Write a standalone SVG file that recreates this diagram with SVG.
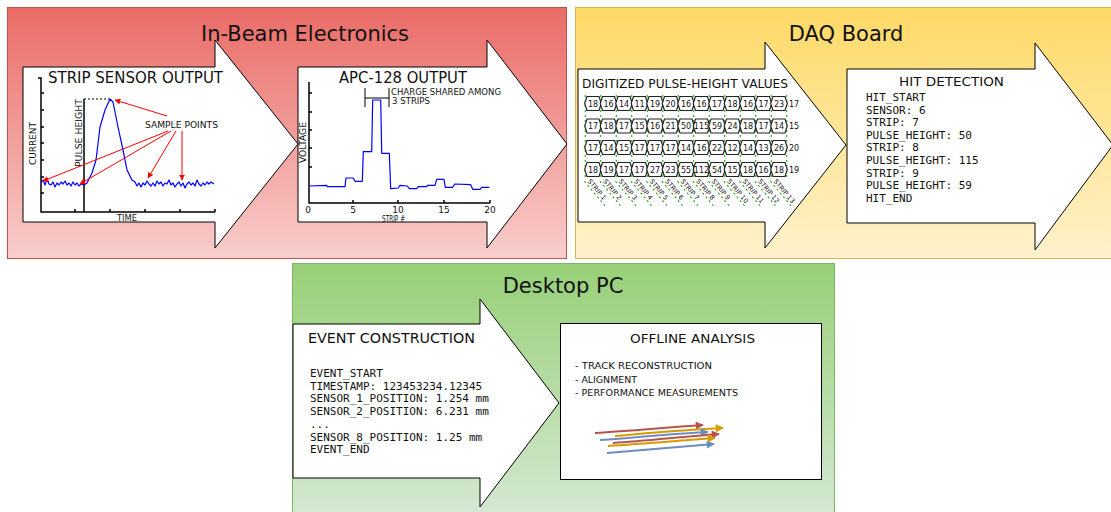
<svg xmlns="http://www.w3.org/2000/svg" xmlns:xlink="http://www.w3.org/1999/xlink" width="1111" height="512" viewBox="0 0 1111 512">
<defs>
<linearGradient id="gRed" x1="0" y1="0" x2="0" y2="1"><stop offset="0" stop-color="#ea6b66"/><stop offset="1" stop-color="#f8cecc"/></linearGradient>
<linearGradient id="gYel" x1="0" y1="0" x2="0" y2="1"><stop offset="0" stop-color="#ffd966"/><stop offset="1" stop-color="#fff2cc"/></linearGradient>
<linearGradient id="gGrn" x1="0" y1="0" x2="0" y2="1"><stop offset="0" stop-color="#97d077"/><stop offset="1" stop-color="#d5e8d4"/></linearGradient>
<marker id="mRed" viewBox="0 0 10 10" refX="9" refY="5" markerWidth="6" markerHeight="6" orient="auto" markerUnits="userSpaceOnUse"><path d="M0,0 L10,5 L0,10 Z" fill="#ff0000"/></marker>
<marker id="aR" viewBox="0 0 10 10" refX="9" refY="5" markerWidth="10" markerHeight="8" orient="auto" markerUnits="userSpaceOnUse"><path d="M0,0 L10,5 L0,10 Z" fill="#b85450"/></marker>
<marker id="aO" viewBox="0 0 10 10" refX="9" refY="5" markerWidth="10" markerHeight="8" orient="auto" markerUnits="userSpaceOnUse"><path d="M0,0 L10,5 L0,10 Z" fill="#d79b00"/></marker>
<marker id="aB" viewBox="0 0 10 10" refX="9" refY="5" markerWidth="10" markerHeight="8" orient="auto" markerUnits="userSpaceOnUse"><path d="M0,0 L10,5 L0,10 Z" fill="#6c8ebf"/></marker>
<path id="cell" d="M-6,-7 H6 L8.3,0 L6,7 H-6 L-8.3,0 Z" fill="#fff" stroke="#222" stroke-width="1.2"/>
</defs>
<style>
.title{font-family:"DejaVu Sans",sans-serif;font-size:21px;fill:#111;text-anchor:middle}
.hand{font-family:"DejaVu Sans","Liberation Sans",sans-serif;fill:#111}
.mono{font-family:"DejaVu Sans Mono","Liberation Mono",monospace;font-size:11px;fill:#111}
.block{fill:#fff;stroke:#000;stroke-width:1}
.ax{fill:none;stroke:#000;stroke-width:1.5}
.blue{fill:none;stroke:#0000ff;stroke-width:1.2;stroke-linejoin:round}
.redar{fill:none;stroke:#ff0000;stroke-width:1;marker-end:url(#mRed)}
.num{font-family:"DejaVu Sans",sans-serif;font-size:8px;fill:#111;text-anchor:middle}
.gdash{stroke:#00a000;stroke-width:1;stroke-dasharray:2 3}
.trk{fill:none;stroke-width:2}
</style>

<g id="section-in-beam">
<rect x="7.5" y="7.5" width="559" height="251" fill="url(#gRed)" stroke="#b85450"/>
<text class="title" x="305" y="41">In-Beam Electronics</text>
</g>
<g id="section-daq">
<rect x="575.5" y="7.5" width="545" height="251" fill="url(#gYel)" stroke="#d6b656"/>
<text class="title" x="846" y="41">DAQ Board</text>
</g>
<g id="section-pc">
<rect x="292.5" y="263.5" width="542" height="255" fill="url(#gGrn)" stroke="#82b366"/>
<text class="title" x="563" y="293">Desktop PC</text>
</g>

<g id="node-strip-sensor">
<path class="block" d="M23,67 H215 V40 L298,144 L215,248 V222 H23 Z"/>
<text class="hand" x="48" y="83" font-size="15" textLength="175" lengthAdjust="spacingAndGlyphs">STRIP SENSOR OUTPUT</text>
<path class="ax" d="M38,78 H41 V212 H215"/>
<path class="ax" stroke-width="1" d="M41,93 h3 M41,110 h3 M41,127 h3 M41,143 h3 M41,160 h3 M41,177 h3 M41,193 h3 M75,212 v-3 M110,212 v-3 M145,212 v-3 M180,212 v-3 M215,212 v-3"/>
<line x1="84" y1="99" x2="84" y2="212" stroke="#000" stroke-width="1.5"/>
<line x1="84" y1="99" x2="110" y2="99" stroke="#000" stroke-width="1" stroke-dasharray="2 2"/>
<text class="hand" font-size="9" transform="translate(36,165) rotate(-90)" textLength="43" lengthAdjust="spacingAndGlyphs">CURRENT</text>
<text class="hand" font-size="9" transform="translate(82,167) rotate(-90)" textLength="68" lengthAdjust="spacingAndGlyphs">PULSE HEIGHT</text>
<text class="hand" font-size="9" x="117" y="221" textLength="20" lengthAdjust="spacingAndGlyphs">TIME</text>
<polyline class="blue" points="41,183 43,180 45,185 47,179 49,184 51,185 53,182 55,187 57,183 59,185 61,182 63,184 65,181 67,185 69,183 71,186 73,182 75,185 77,183 79,186 81,184 84,185 87,183 92,173 96,160 100,127 105,110 110,99 113,102 118,127 123,150 127,170 132,180 135,182 137,186 139,183 141,187 143,183 145,185 147,181 149,184 151,186 153,183 155,186 157,181 159,184 161,182 163,186 165,183 167,184 169,180 171,185 173,183 175,187 177,184 179,182 181,186 183,183 185,188 187,184 189,182 191,185 193,183 195,186 197,180 199,184 201,186 203,183 205,185 207,182 209,184 211,182 214,184"/>
<text class="hand" font-size="9" x="145" y="128" textLength="73" lengthAdjust="spacingAndGlyphs">SAMPLE POINTS</text>
<line class="redar" x1="167" y1="116" x2="115" y2="100"/>
<line class="redar" x1="168" y1="131" x2="43" y2="181"/>
<line class="redar" x1="171" y1="131" x2="80" y2="184"/>
<line class="redar" x1="176" y1="131" x2="148" y2="178"/>
<line class="redar" x1="182" y1="131" x2="182" y2="180"/>
</g>

<g id="node-apc">
<path class="block" d="M298,67 H487 V40 L567,144 L487,248 V222 H298 Z"/>
<text class="hand" x="339" y="83" font-size="15" textLength="128" lengthAdjust="spacingAndGlyphs">APC-128 OUTPUT</text>
<path class="ax" d="M309,82 V203 H490"/>
<path class="ax" stroke-width="1" d="M309,93 h3 M309,112 h3 M309,130 h3 M309,148 h3 M309,167 h3 M353,203 v-3 M398,203 v-3 M444,203 v-3 M490,203 v-3"/>
<g class="hand" font-size="9" text-anchor="middle">
<text x="308" y="213">0</text><text x="353" y="213">5</text><text x="398" y="213">10</text><text x="444" y="213">15</text><text x="490" y="213">20</text>
</g>
<text class="hand" font-size="8" x="382" y="222" textLength="23" lengthAdjust="spacingAndGlyphs">STRIP #</text>
<text class="hand" font-size="9" transform="translate(306,163) rotate(-90)" textLength="41" lengthAdjust="spacingAndGlyphs">VOLTAGE</text>
<path fill="none" stroke="#000" stroke-width="1" d="M365,88 V107 M365,98 H389 M389,88 V107"/>
<text class="hand" font-size="8" x="391" y="95" textLength="110" lengthAdjust="spacingAndGlyphs">CHARGE SHARED AMONG</text>
<text class="hand" font-size="8" x="392" y="104" textLength="38" lengthAdjust="spacingAndGlyphs">3 STRIPS</text>
<polyline class="blue" points="309.3,186 326.7,185.3 327.3,186.7 345,186.7 346,178 353.3,178 355,181.3 362.3,181.3 363.3,151.7 371.7,151.7 372.7,100 380.7,100 381.7,153.3 389.3,153.3 390.7,188.7 398.3,188 400,185.3 407.3,186 409.3,188.7 416.7,188.7 418.3,186.7 426.7,186.7 427.3,185.3 435,185.3 436.7,179.3 444,179.3 445.3,187.3 452.7,187.3 454.7,184 470.7,184.7 472.7,189.3 480,189.3 481.7,187.3 489.3,187.3"/>
</g>

<g id="node-digitized">
<path class="block" d="M578,69 H765 V42 L846,145 L765,248 V222 H578 Z"/>
<text class="hand" x="582" y="88" font-size="12" textLength="206" lengthAdjust="spacingAndGlyphs">DIGITIZED PULSE-HEIGHT VALUES</text>
<path class="gdash" d="M585.25,95 V200 M600.75,95 V200 M616.25,95 V200 M631.75,95 V200 M647.25,95 V200 M662.75,95 V200 M678.25,95 V200 M693.75,95 V200 M709.25,95 V200 M724.75,95 V200 M740.25,95 V200 M755.75,95 V200 M771.25,95 V200 M786.75,95 V180" stroke-dasharray="2 4"/>
<rect x="580" y="178" width="215" height="30" fill="#fff"/>
<g id="cells">
<use href="#cell" x="593" y="103.5"/><use href="#cell" x="608.5" y="103.5"/><use href="#cell" x="624" y="103.5"/><use href="#cell" x="639.5" y="103.5"/><use href="#cell" x="655" y="103.5"/><use href="#cell" x="670.5" y="103.5"/><use href="#cell" x="686" y="103.5"/><use href="#cell" x="701.5" y="103.5"/><use href="#cell" x="717" y="103.5"/><use href="#cell" x="732.5" y="103.5"/><use href="#cell" x="748" y="103.5"/><use href="#cell" x="763.5" y="103.5"/><use href="#cell" x="779" y="103.5"/>
<use href="#cell" x="593" y="126"/><use href="#cell" x="608.5" y="126"/><use href="#cell" x="624" y="126"/><use href="#cell" x="639.5" y="126"/><use href="#cell" x="655" y="126"/><use href="#cell" x="670.5" y="126"/><use href="#cell" x="686" y="126"/><use href="#cell" x="701.5" y="126"/><use href="#cell" x="717" y="126"/><use href="#cell" x="732.5" y="126"/><use href="#cell" x="748" y="126"/><use href="#cell" x="763.5" y="126"/><use href="#cell" x="779" y="126"/>
<use href="#cell" x="593" y="147.5"/><use href="#cell" x="608.5" y="147.5"/><use href="#cell" x="624" y="147.5"/><use href="#cell" x="639.5" y="147.5"/><use href="#cell" x="655" y="147.5"/><use href="#cell" x="670.5" y="147.5"/><use href="#cell" x="686" y="147.5"/><use href="#cell" x="701.5" y="147.5"/><use href="#cell" x="717" y="147.5"/><use href="#cell" x="732.5" y="147.5"/><use href="#cell" x="748" y="147.5"/><use href="#cell" x="763.5" y="147.5"/><use href="#cell" x="779" y="147.5"/>
<use href="#cell" x="593" y="169.5"/><use href="#cell" x="608.5" y="169.5"/><use href="#cell" x="624" y="169.5"/><use href="#cell" x="639.5" y="169.5"/><use href="#cell" x="655" y="169.5"/><use href="#cell" x="670.5" y="169.5"/><use href="#cell" x="686" y="169.5"/><use href="#cell" x="701.5" y="169.5"/><use href="#cell" x="717" y="169.5"/><use href="#cell" x="732.5" y="169.5"/><use href="#cell" x="748" y="169.5"/><use href="#cell" x="763.5" y="169.5"/><use href="#cell" x="779" y="169.5"/>
</g>
<g class="num">
<text x="593" y="106.5">18</text><text x="608.5" y="106.5">16</text><text x="624" y="106.5">14</text><text x="639.5" y="106.5">11</text><text x="655" y="106.5">19</text><text x="670.5" y="106.5">20</text><text x="686" y="106.5">16</text><text x="701.5" y="106.5">16</text><text x="717" y="106.5">17</text><text x="732.5" y="106.5">18</text><text x="748" y="106.5">16</text><text x="763.5" y="106.5">17</text><text x="779" y="106.5">23</text><text x="794" y="106.5">17</text>
<text x="593" y="129">17</text><text x="608.5" y="129">18</text><text x="624" y="129">17</text><text x="639.5" y="129">15</text><text x="655" y="129">16</text><text x="670.5" y="129">21</text><text x="686" y="129">50</text><text x="701.5" y="129">115</text><text x="717" y="129">59</text><text x="732.5" y="129">24</text><text x="748" y="129">18</text><text x="763.5" y="129">17</text><text x="779" y="129">14</text><text x="794" y="129">15</text>
<text x="593" y="150.5">17</text><text x="608.5" y="150.5">14</text><text x="624" y="150.5">15</text><text x="639.5" y="150.5">17</text><text x="655" y="150.5">17</text><text x="670.5" y="150.5">17</text><text x="686" y="150.5">14</text><text x="701.5" y="150.5">16</text><text x="717" y="150.5">22</text><text x="732.5" y="150.5">12</text><text x="748" y="150.5">14</text><text x="763.5" y="150.5">13</text><text x="779" y="150.5">26</text><text x="794" y="150.5">20</text>
<text x="593" y="172.5">18</text><text x="608.5" y="172.5">19</text><text x="624" y="172.5">17</text><text x="639.5" y="172.5">17</text><text x="655" y="172.5">27</text><text x="670.5" y="172.5">23</text><text x="686" y="172.5">55</text><text x="701.5" y="172.5">112</text><text x="717" y="172.5">54</text><text x="732.5" y="172.5">15</text><text x="748" y="172.5">18</text><text x="763.5" y="172.5">16</text><text x="779" y="172.5">18</text><text x="794" y="172.5">19</text>
</g>
<g class="hand" font-size="6.5">
<g transform="translate(586,180) rotate(50)"><line class="gdash" x1="0" y1="2" x2="32" y2="2"/><text x="2" y="0">STRIP 1</text></g>
<g transform="translate(601.5,180) rotate(50)"><line class="gdash" x1="0" y1="2" x2="32" y2="2"/><text x="2" y="0">STRIP 2</text></g>
<g transform="translate(617,180) rotate(50)"><line class="gdash" x1="0" y1="2" x2="32" y2="2"/><text x="2" y="0">STRIP 3</text></g>
<g transform="translate(632.5,180) rotate(50)"><line class="gdash" x1="0" y1="2" x2="32" y2="2"/><text x="2" y="0">STRIP 4</text></g>
<g transform="translate(648,180) rotate(50)"><line class="gdash" x1="0" y1="2" x2="32" y2="2"/><text x="2" y="0">STRIP 5</text></g>
<g transform="translate(663.5,180) rotate(50)"><line class="gdash" x1="0" y1="2" x2="32" y2="2"/><text x="2" y="0">STRIP 6</text></g>
<g transform="translate(679,180) rotate(50)"><line class="gdash" x1="0" y1="2" x2="32" y2="2"/><text x="2" y="0">STRIP 7</text></g>
<g transform="translate(694.5,180) rotate(50)"><line class="gdash" x1="0" y1="2" x2="32" y2="2"/><text x="2" y="0">STRIP 8</text></g>
<g transform="translate(710,180) rotate(50)"><line class="gdash" x1="0" y1="2" x2="32" y2="2"/><text x="2" y="0">STRIP 9</text></g>
<g transform="translate(725.5,180) rotate(50)"><line class="gdash" x1="0" y1="2" x2="32" y2="2"/><text x="2" y="0">STRIP 10</text></g>
<g transform="translate(741,180) rotate(50)"><line class="gdash" x1="0" y1="2" x2="32" y2="2"/><text x="2" y="0">STRIP 11</text></g>
<g transform="translate(756.5,180) rotate(50)"><line class="gdash" x1="0" y1="2" x2="32" y2="2"/><text x="2" y="0">STRIP 12</text></g>
<g transform="translate(772,180) rotate(50)"><line class="gdash" x1="0" y1="2" x2="32" y2="2"/><text x="2" y="0">STRIP 13</text></g>
</g>
</g>

<g id="node-hit-detection">
<path class="block" d="M847,69 H1035 V43 L1113,145 L1035,250 V223 H847 Z"/>
<text class="hand" x="899" y="86" font-size="13" textLength="105" lengthAdjust="spacingAndGlyphs">HIT DETECTION</text>
<text class="mono" x="866" y="101">HIT_START</text>
<text class="mono" x="866" y="113.6">SENSOR: 6</text>
<text class="mono" x="866" y="126.2">STRIP: 7</text>
<text class="mono" x="866" y="138.8">PULSE_HEIGHT: 50</text>
<text class="mono" x="866" y="151.4">STRIP: 8</text>
<text class="mono" x="866" y="164">PULSE_HEIGHT: 115</text>
<text class="mono" x="866" y="176.6">STRIP: 9</text>
<text class="mono" x="866" y="189.2">PULSE_HEIGHT: 59</text>
<text class="mono" x="866" y="201.8">HIT_END</text>
</g>

<g id="node-event-construction">
<path class="block" d="M293,324 H480 V299 L559,403 L480,507 V478 H293 Z"/>
<text class="hand" x="308" y="343" font-size="14" textLength="167" lengthAdjust="spacingAndGlyphs">EVENT CONSTRUCTION</text>
<text class="mono" x="310" y="377">EVENT_START</text>
<text class="mono" x="310" y="389.7">TIMESTAMP: 123453234.12345</text>
<text class="mono" x="310" y="402.4">SENSOR_1_POSITION: 1.254 mm</text>
<text class="mono" x="310" y="415.1">SENSOR_2_POSITION: 6.231 mm</text>
<text class="mono" x="310" y="427.8">...</text>
<text class="mono" x="310" y="440.5">SENSOR_8_POSITION: 1.25 mm</text>
<text class="mono" x="310" y="453.2">EVENT_END</text>
</g>

<g id="node-offline-analysis">
<rect x="560.5" y="323.5" width="261" height="156" fill="#fff" stroke="#000"/>
<text class="hand" x="630" y="343" font-size="13" textLength="125" lengthAdjust="spacingAndGlyphs">OFFLINE ANALYSIS</text>
<text class="hand" x="575" y="369" font-size="9.5" textLength="137" lengthAdjust="spacingAndGlyphs">- TRACK RECONSTRUCTION</text>
<text class="hand" x="575" y="382.5" font-size="9.5" textLength="62" lengthAdjust="spacingAndGlyphs">- ALIGNMENT</text>
<text class="hand" x="575" y="396" font-size="9.5" textLength="163" lengthAdjust="spacingAndGlyphs">- PERFORMANCE MEASUREMENTS</text>
<path class="trk" stroke="#b85450" marker-end="url(#aR)" d="M595,433 C630,431 660,428 703,425"/>
<path class="trk" stroke="#d79b00" marker-end="url(#aO)" d="M615,436 C650,433 680,430 723,428"/>
<path class="trk" stroke="#6c8ebf" marker-end="url(#aB)" d="M600,440 C635,438 665,434 708,432"/>
<path class="trk" stroke="#b85450" marker-end="url(#aR)" d="M613,443 C645,441 680,437 719,434"/>
<path class="trk" stroke="#d79b00" marker-end="url(#aO)" d="M608,446 C640,444 675,441 715,438"/>
<path class="trk" stroke="#6c8ebf" marker-end="url(#aB)" d="M607,453 C640,450 675,447 714,444"/>
</g>
</svg>
